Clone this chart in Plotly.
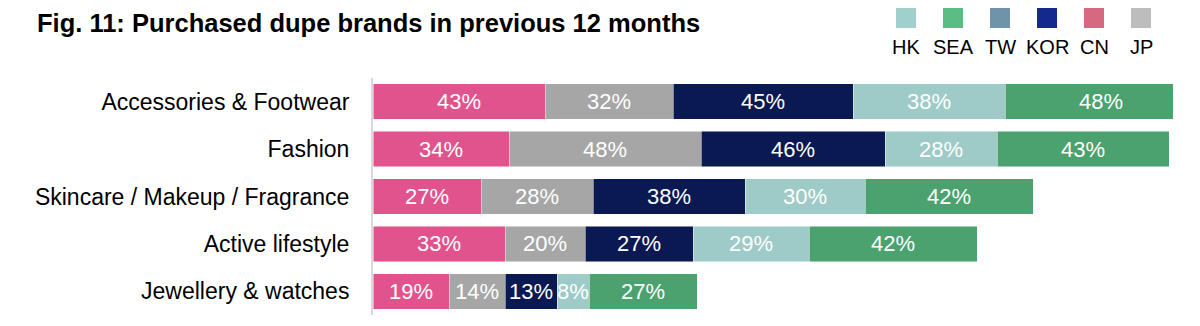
import plotly.graph_objects as go

# ---- data ----
categories = ["Accessories & Footwear", "Fashion", "Skincare / Makeup / Fragrance",
              "Active lifestyle", "Jewellery & watches"]
cn = [43, 34, 27, 33, 19]
jp = [32, 48, 28, 20, 14]
kor = [45, 46, 38, 27, 13]
hk = [38, 28, 30, 29, 8]
sea = [48, 43, 42, 42, 27]

bar_series = [("CN", cn, "#E0538C"), ("JP", jp, "#A6A6A6"), ("KOR", kor, "#0B1953"),
              ("HK", hk, "#9ECBC7"), ("SEA", sea, "#4BA26F")]
legend_names = ["HK", "SEA", "TW", "KOR", "CN", "JP"]
legend_colors = ["#A0D0CC", "#5BBD84", "#6F93A8", "#13298D", "#D6697F", "#BDBDBD"]

W, H = 1200, 326
L, R, T, B = 373, 27, 78, 11

fig = go.Figure()
for name, vals, col in bar_series:
    fig.add_trace(go.Bar(
        y=categories, x=vals, orientation="h", name=name,
        marker=dict(color=col, line=dict(color="rgba(255,255,255,0.6)", width=0.8)),
        text=[f"{v}%" for v in vals], textposition="inside",
        insidetextanchor="middle", textangle=0, constraintext="none",
        textfont=dict(color="white", size=22, family="Liberation Sans, Arial"),
        cliponaxis=True, showlegend=False,
    ))

# legend (squares with labels beneath)
pw = W - L - R
ph = H - T - B
def px_x(p):
    return (p - L) / pw
def px_y(q):
    return (H - B - q) / ph

shapes = []
annotations = []
for i, (nm, col) in enumerate(zip(legend_names, legend_colors)):
    cx = 906 + 47 * i
    shapes.append(dict(type="rect", xref="paper", yref="paper",
                       x0=px_x(cx - 10), x1=px_x(cx + 10),
                       y0=px_y(28), y1=px_y(8),
                       fillcolor=col, line=dict(width=0)))
    annotations.append(dict(text=nm, xref="paper", yref="paper",
                            x=px_x(cx), y=px_y(47), xanchor="center", yanchor="middle",
                            showarrow=False,
                            font=dict(size=20, color="#000000", family="Liberation Sans, Arial")))

fig.update_layout(
    width=W, height=H,
    barmode="stack", bargap=0.25,
    margin=dict(l=L, r=R, t=T, b=B),
    paper_bgcolor="white", plot_bgcolor="white",
    title=dict(text="<b>Fig. 11: Purchased dupe brands in previous 12 months</b>",
               x=37 / W, xanchor="left", y=1 - 23 / H, yanchor="middle",
               font=dict(size=25.5, color="#000000", family="Liberation Sans Narrow, Liberation Sans, Arial")),
    xaxis=dict(range=[0, 200], visible=False, fixedrange=True),
    yaxis=dict(autorange="reversed", showline=True, linecolor="#D9D9D9", linewidth=2,
               ticks="", showgrid=False, ticklabelstandoff=17,
               tickfont=dict(size=23, color="#000000", family="Liberation Sans, Arial")),
    shapes=shapes, annotations=annotations,
    uniformtext=dict(mode=False),
)

fig.write_html("out.html")
